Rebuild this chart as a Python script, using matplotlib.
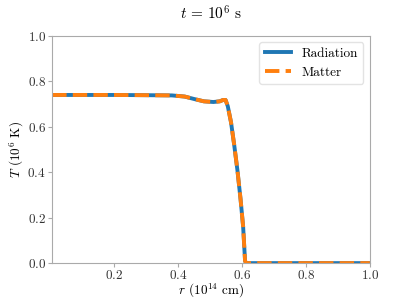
import matplotlib
matplotlib.use("Agg")
import matplotlib.pyplot as plt

plt.rcParams['font.family'] = 'serif'
plt.rcParams['font.serif'] = ['cmr10', 'DejaVu Serif']
plt.rcParams['mathtext.fontset'] = 'cm'
plt.rcParams['axes.formatter.use_mathtext'] = True
plt.rcParams['axes.unicode_minus'] = False

# Temperatur-Profil bei t = 1e6 s
r_vals = [0.005, 0.1, 0.2, 0.3, 0.38, 0.42, 0.45, 0.48, 0.51, 0.53, 0.54,
          0.548, 0.555, 0.565, 0.575, 0.585, 0.595, 0.603, 0.607, 0.609,
          0.612, 0.7, 0.85, 1.0]
T_rad = [0.74, 0.74, 0.74, 0.739, 0.738, 0.733, 0.722, 0.712, 0.709, 0.712,
         0.718, 0.718, 0.69, 0.62, 0.52, 0.41, 0.28, 0.16, 0.06, 0.01,
         0.0, 0.0, 0.0, 0.0]
T_mat = list(T_rad)

fig, ax = plt.subplots(figsize=(4.11, 2.99), dpi=100)
fig.subplots_adjust(left=0.127, right=0.9, top=0.88, bottom=0.12)

ax.plot(r_vals, T_rad, color='#1f77b4', lw=2.8, label='Radiation')
ax.plot(r_vals, T_mat, color='#ff7f0e', lw=2.8, ls='--', label='Matter')

ax.set_xlim(0.005, 1.0)
ax.set_ylim(0.0, 1.0)
ax.set_xticks([0.2, 0.4, 0.6, 0.8, 1.0])
ax.set_yticks([0.0, 0.2, 0.4, 0.6, 0.8, 1.0])
ax.set_xlabel(r'$r$ ($10^{14}$ cm)', fontsize=9.5, labelpad=0)
ax.set_ylabel(r'$T$ ($10^6$ K)', fontsize=9.5, labelpad=1)
ax.set_title(r'$t\,=\,10^6$ s', fontsize=11, pad=12)

for s in ax.spines.values():
    s.set_color('#aaaaaa')
ax.tick_params(colors='#333333', labelsize=9.5, length=3, width=0.8, pad=1.5)
ax.tick_params(axis='both', color='#aaaaaa')

leg = ax.legend(loc='upper right', fontsize=9.5, frameon=True, fancybox=True)
leg.get_frame().set_edgecolor('#dddddd')

fig.savefig('out.png', dpi=100)
